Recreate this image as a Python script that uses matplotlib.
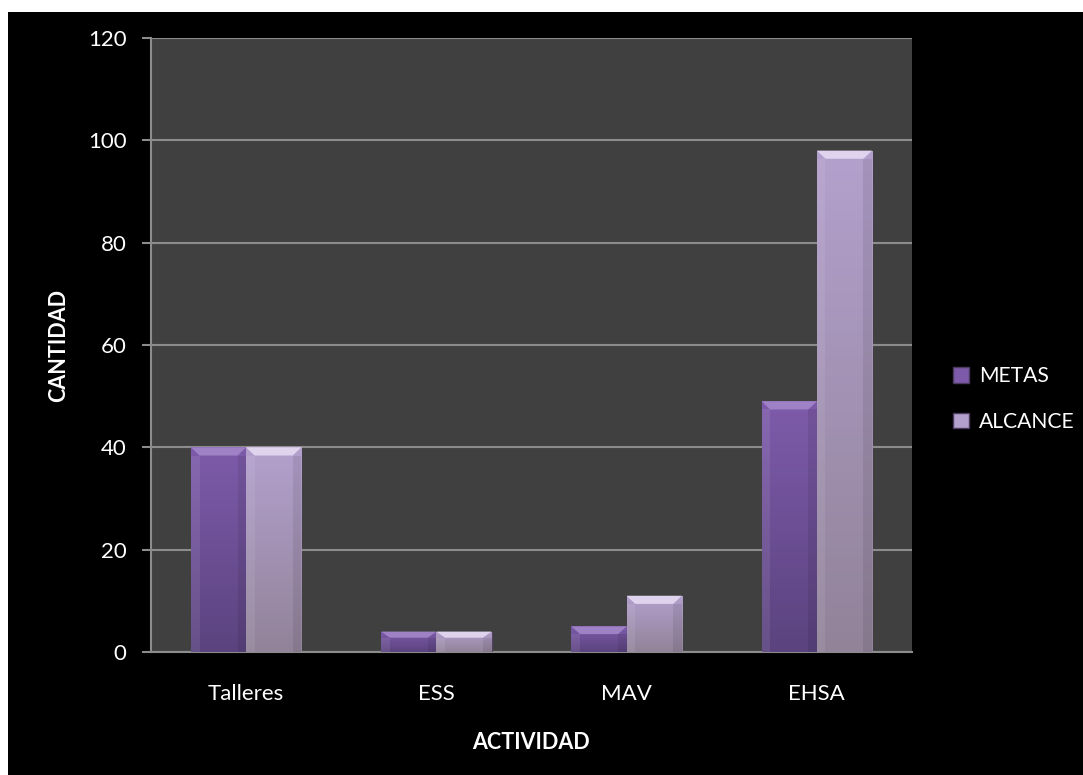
import matplotlib
matplotlib.use("Agg")
import matplotlib.pyplot as plt
import matplotlib.patches as patches
import numpy as np
from matplotlib.colors import LinearSegmentedColormap

# Data
categories = ["Talleres", "ESS", "MAV", "EHSA"]
metas = [40, 4, 5, 49]
alcance = [40, 4, 11, 98]
series_names = ["METAS", "ALCANCE"]
y_ticks = [0, 20, 40, 60, 80, 100, 120]

plt.rcParams['font.family'] = ['Lato', 'DejaVu Sans']

fig = plt.figure(figsize=(10.83, 7.75), dpi=100, facecolor='white')
# black slide background with the thin white margin on the left/top
fig.patches.append(patches.Rectangle((8 / 1083, 0), 1, 1 - 12 / 775,
                                     transform=fig.transFigure,
                                     facecolor='black', edgecolor='none', zorder=-10))

ax = fig.add_axes([151 / 1083, 1 - 652 / 775, 761 / 1083, 614 / 775])
ax.set_facecolor('#404040')

x = np.arange(len(categories))
width = 0.29

# colours: top, bottom of gradient + bevel highlight
styles = {
    "METAS": ('#7D5BAA', '#5B437F', '#A68ACB'),
    "ALCANCE": ('#B3A0CD', '#928399', '#E8DDF4'),
}


def draw_bar(xc, h, name):
    top_c, bot_c, hi_c = styles[name]
    bars = ax.bar(xc, h, width, color=top_c, edgecolor='#4a3a5e', linewidth=0.6, zorder=3)
    rect = bars[0]
    cmap = LinearSegmentedColormap.from_list(name, [bot_c, top_c])
    grad = np.linspace(0, 1, 100).reshape(-1, 1)
    im = ax.imshow(grad, cmap=cmap, origin='lower', aspect='auto',
                   extent=[xc - width / 2, xc + width / 2, 0, h], zorder=3.5)
    im.set_clip_path(rect)
    # top bevel
    bx, by = 0.045, min(1.6, h * 0.3)
    top = patches.Polygon([(xc - width / 2, h), (xc + width / 2, h),
                           (xc + width / 2 - bx, h - by), (xc - width / 2 + bx, h - by)],
                          closed=True, facecolor=hi_c, edgecolor='none', alpha=0.85, zorder=4)
    ax.add_patch(top)
    # side shading
    for sx, col in [(xc - width / 2, 'white'), (xc + width / 2 - bx, 'black')]:
        ax.add_patch(patches.Rectangle((sx, 0), bx, h - by, facecolor=col,
                                       alpha=0.08, edgecolor='none', zorder=4))
    return rect


for i in range(len(categories)):
    draw_bar(x[i] - width / 2, metas[i], "METAS")
    draw_bar(x[i] + width / 2, alcance[i], "ALCANCE")

ax.set_xlim(-0.5, len(categories) - 0.5)
ax.set_ylim(0, 120)
ax.set_yticks(y_ticks)
ax.set_xticks(x)
ax.set_xticklabels(categories)
ax.grid(axis='y', color='#8c8c8c', linewidth=1.5, zorder=1)
ax.set_axisbelow(True)

for s in ['top', 'right']:
    ax.spines[s].set_visible(False)
ax.spines['left'].set_color('#8c8c8c')
ax.spines['left'].set_linewidth(1.5)
ax.spines['bottom'].set_color('#8c8c8c')
ax.spines['bottom'].set_linewidth(1.5)

ax.tick_params(axis='y', colors='#8c8c8c', length=6.5, width=1.5, labelcolor='white',
               labelsize=16, pad=11)
ax.tick_params(axis='x', length=0, labelcolor='white', labelsize=16, pad=23)

ax.set_xlabel("ACTIVIDAD", color='white', fontsize=15.5, fontweight='bold', labelpad=20)
ax.set_ylabel("CANTIDAD", color='white', fontsize=15.5, fontweight='bold', labelpad=14)

handles = [patches.Patch(facecolor=styles[n][0], edgecolor='#4a3a5e') for n in series_names]
leg = fig.legend(handles, series_names, loc='center left',
                 bbox_to_anchor=(953 / 1083, 1 - 399 / 775), frameon=False,
                 fontsize=15.2, labelcolor='white', handlelength=0.75, handleheight=0.75,
                 handletextpad=0.48, labelspacing=1.2, borderpad=0, borderaxespad=0)

fig.savefig("out.png", dpi=100, facecolor=fig.get_facecolor())
